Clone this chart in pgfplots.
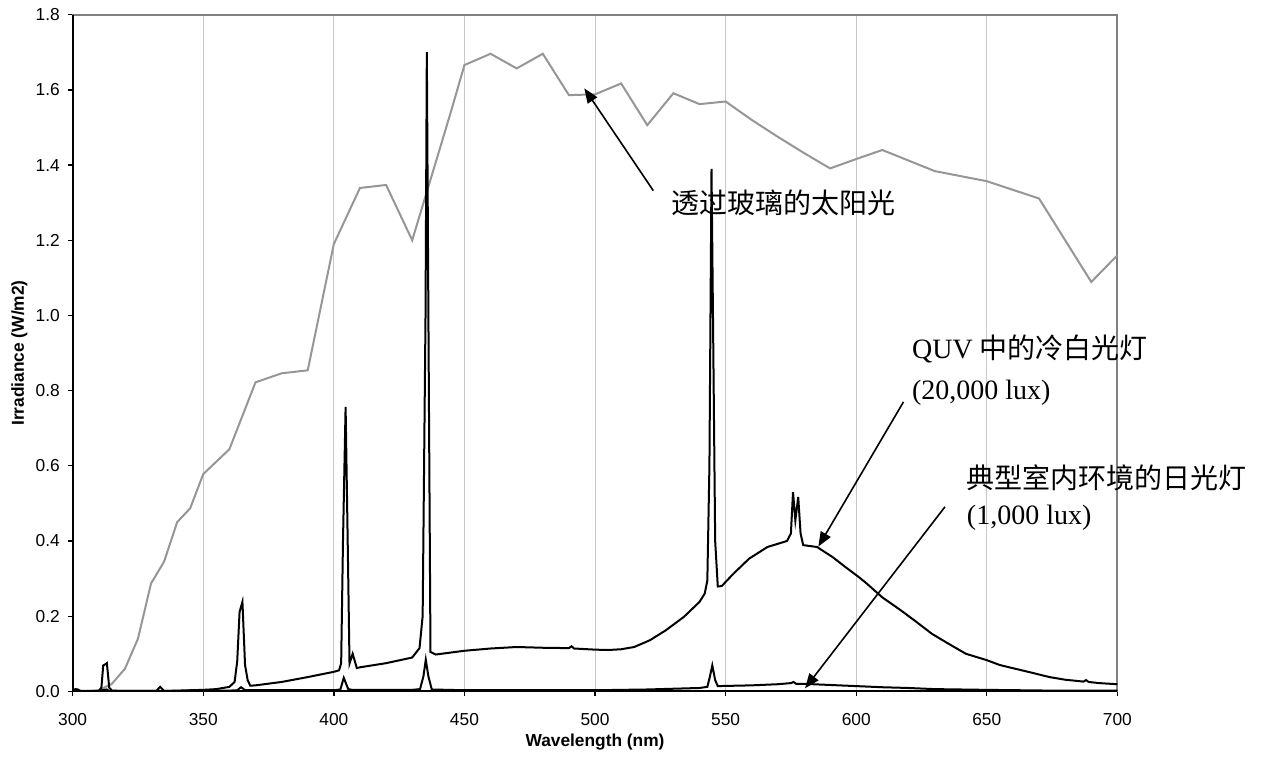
\documentclass[border=0pt]{standalone}
\usepackage{fontspec}
\setmainfont{Liberation Serif}
\setsansfont{Liberation Sans}
\newfontfamily\cjk{Noto Sans CJK SC}
\usepackage{pgfplots}
\pgfplotsset{compat=1.18}
\usetikzlibrary{arrows.meta}
\definecolor{sungray}{RGB}{150,150,150}
\definecolor{gridgray}{RGB}{200,200,200}
\definecolor{framegray}{RGB}{128,128,128}

\begin{document}
\begin{tikzpicture}[>={Triangle[length=11pt,width=8.5pt]}]
\path[use as bounding box] (-54.5pt,-51.5pt) rectangle (894.2pt,518.5pt);
\begin{axis}[
  at={(0,0)}, anchor=south west,
  scale only axis, width=783.5pt, height=507.5pt,
  xmin=300, xmax=700, ymin=0, ymax=1.8,
  xtick={300,350,400,450,500,550,600,650,700},
  ytick={0,0.2,0.4,0.6,0.8,1.0,1.2,1.4,1.6,1.8},
  /pgf/number format/assume math mode=true,
  tick label style={font=\sffamily\fontsize{13}{15}\selectfont, inner sep=0pt},
  xticklabel style={anchor=center, yshift=-17pt},
  yticklabel style={anchor=east, xshift=-5.75pt,
    /pgf/number format/fixed, /pgf/number format/fixed zerofill,
    /pgf/number format/precision=1},
  tick pos=left, tick align=outside,
  major tick length=3.75pt,
  tick style={black, line width=1pt},
  axis line style={framegray, line width=1.5pt},
  xmajorgrids, grid style={gridgray, line width=0.75pt},
  xlabel={Wavelength (nm)}, ylabel={Irradiance (W/m2)},
  label style={font=\sffamily\bfseries\fontsize{13}{15}\selectfont, inner sep=0pt},
  xlabel style={at={(axis description cs:0.5,-0.0745)}, anchor=center},
  ylabel style={at={(axis description cs:-0.0511,0.5)}, anchor=center},
  clip mode=individual,
]
% sunlight through window glass
\addplot[sungray, line width=1.5pt] coordinates {
(305,0) (310,0.003) (315,0.02) (320,0.06) (325,0.14) (330,0.287) (335,0.345)
(340,0.45) (345,0.487) (350,0.578) (360,0.644) (370,0.822) (380,0.846)
(390,0.854) (400,1.19) (410,1.339) (420,1.347) (430,1.20) (440,1.43)
(445,1.546) (450,1.666) (460,1.696) (470,1.657) (480,1.696) (490,1.586)
(500,1.588) (510,1.617) (520,1.506) (530,1.591) (540,1.562) (550,1.569)
(560,1.52) (570,1.475) (580,1.432) (590,1.391) (600,1.416) (610,1.44)
(630,1.384) (650,1.357) (670,1.311) (690,1.089) (700,1.16)
};
% QUV cool white (20,000 lux)
\addplot[black, line width=1.5pt] coordinates {
(300,0.002) (301,0.006) (302,0.005) (303,0.001) (305,0.0) (310,0.001)
(311,0.01) (311.7,0.069) (312.5,0.072) (313.1,0.075) (314,0.01) (315,0.002)
(320,0.001) (332,0.001) (333.5,0.012) (335,0.001) (340,0.002) (350,0.004)
(355,0.006) (360,0.012) (362,0.025) (363,0.08) (363.9,0.211) (365,0.238)
(366,0.07) (367,0.03) (368,0.015) (370,0.016) (380,0.025) (390,0.038)
(395,0.045) (400,0.052) (402,0.056) (402.8,0.075) (403.5,0.4) (404.5,0.757)
(405.3,0.4) (406,0.074) (407.2,0.10) (408.8,0.062) (410,0.064) (420,0.075)
(430,0.090) (432.8,0.115) (434,0.2) (435.1,1.0) (435.6,1.70) (436.2,1.0)
(437,0.105) (439,0.098) (450,0.108) (460,0.114) (470,0.118) (480,0.116)
(490,0.115) (491,0.12) (492,0.114) (500,0.111) (505,0.110) (510,0.112)
(515,0.118) (521,0.136) (527,0.162) (534,0.198) (540,0.238) (542,0.26)
(543,0.295) (543.8,0.6) (544.6,1.39) (545.3,0.9) (546,0.4) (547,0.279)
(548.5,0.28) (553,0.313) (559,0.353) (566,0.384) (573.5,0.40) (575,0.42)
(575.8,0.53) (576.7,0.455) (577.8,0.517) (578.7,0.42) (579.7,0.389)
(585,0.384) (591,0.357) (596,0.33) (601,0.304) (604,0.287) (610,0.25)
(617,0.216) (623,0.185) (629,0.153) (636,0.124) (642,0.100) (650,0.083)
(655,0.07) (661,0.060) (667,0.05) (674,0.038) (680,0.031) (687,0.026)
(688,0.03) (689,0.025) (693,0.022) (700,0.019)
};
% typical indoor fluorescent (1,000 lux)
\addplot[black, line width=1.5pt] coordinates {
(300,0.001) (310,0.001) (312,0.004) (313,0.005) (314,0.001) (360,0.002)
(363,0.003) (364.5,0.011) (366,0.003) (400,0.003) (402.5,0.005)
(403.8,0.036) (405.5,0.006) (407,0.004) (430,0.004) (433,0.006)
(434.3,0.04) (435.2,0.084) (436.2,0.04) (437.5,0.005) (450,0.003)
(480,0.003) (500,0.003) (520,0.005) (530,0.007) (540,0.009) (543,0.012)
(544,0.04) (544.9,0.069) (546,0.03) (547,0.014) (560,0.016) (570,0.019)
(575,0.022) (576,0.025) (577,0.02) (580,0.02) (590,0.017) (600,0.014)
(610,0.011) (620,0.009) (630,0.006) (650,0.004) (675,0.002) (700,0.002)
};
\draw[black, line width=1.5pt] (rel axis cs:0,1) -- (rel axis cs:0,0) -- (rel axis cs:1,0);

% annotations
\draw[->, line width=1.2pt] (axis cs:522.3,1.332) -- (axis cs:495.9,1.604);
\draw[->, line width=1.2pt] (axis cs:618.1,0.770) -- (axis cs:585.5,0.385);
\draw[->, line width=1.2pt] (axis cs:634.0,0.491) -- (axis cs:580.4,0.008);
\begin{scope}[every node/.style={anchor=west, inner sep=0pt, font=\fontsize{21}{25}\selectfont}]
\node at (axis cs:529.0,1.299) {\cjk 透过玻璃的太阳光};
\node at (axis cs:621.3,0.911) {QUV {\cjk 中的冷白光灯}};
\node at (axis cs:621.3,0.795) {(20,000 lux)};
\node at (axis cs:642.3,0.567) {\cjk 典型室内环境的日光灯};
\node at (axis cs:642.3,0.462) {(1,000 lux)};
\end{scope}
\end{axis}
\end{tikzpicture}
\end{document}
